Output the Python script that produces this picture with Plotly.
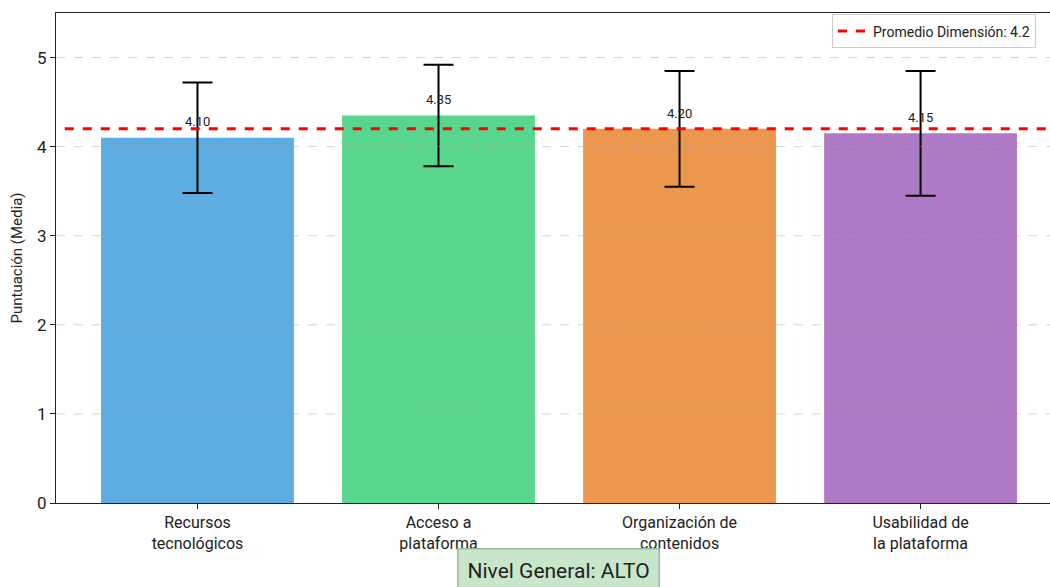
import plotly.graph_objects as go

categories = ["Recursos<br>tecnológicos", "Acceso a<br>plataforma", "Organización de<br>contenidos", "Usabilidad de<br>la plataforma"]
means = [4.10, 4.35, 4.20, 4.15]
errors = [0.62, 0.57, 0.65, 0.70]
colors = ["#5DADE2", "#58D68D", "#EB984E", "#AF7AC5"]
dim_mean = 4.2
y_ticks = [0, 1, 2, 3, 4, 5]
nivel = "ALTO"

FONT = "Roboto, Open Sans, sans-serif"
x = list(range(len(categories)))

fig = go.Figure()
fig.add_trace(go.Bar(
    x=x, y=means, width=0.8, marker=dict(color=colors, line=dict(width=0)),
    error_y=dict(type="data", array=errors, visible=True, color="black", thickness=2, width=15),
    showlegend=False, hoverinfo="skip",
))
fig.add_trace(go.Scatter(
    x=[-0.7, 3.7], y=[dim_mean, dim_mean], mode="lines",
    line=dict(color="red", width=3, dash="dash"),
    name=f"Promedio Dimensión: {dim_mean}", cliponaxis=True,
))

shapes = []
for t in y_ticks[1:]:
    shapes.append(dict(type="line", xref="paper", x0=0, x1=1, yref="y", y0=t, y1=t,
                       line=dict(color="rgba(160,160,160,0.45)", width=1, dash="dash"), layer="above"))

annotations = []
for xi, v in zip(x, means):
    annotations.append(dict(x=xi, y=v + 0.07, text=f"{v:.2f}", showarrow=False, yanchor="bottom",
                            font=dict(size=13, color="#222", family=FONT)))
annotations.append(dict(xref="paper", yref="paper", x=(558 - 56) / 994, y=-(570 - 503) / 490, yanchor="middle",
                        text=f"Nivel General: {nivel}", showarrow=False,
                        font=dict(size=21, color="#222", family=FONT),
                        bgcolor="#C8E6C9", bordercolor="#9DB89F", borderwidth=1.5, borderpad=9))

fig.update_layout(
    width=1050, height=587,
    margin=dict(l=56, r=0, t=13, b=84, autoexpand=False),
    paper_bgcolor="white", plot_bgcolor="white",
    font=dict(family=FONT, size=15, color="#222"),
    shapes=shapes, annotations=annotations,
    legend=dict(x=(832 - 56) / 994, y=0.997, xanchor="left", yanchor="top",
                bgcolor="white", bordercolor="#cccccc", borderwidth=1, entrywidth=180,
                font=dict(size=14, family=FONT, color="#222")),
    xaxis=dict(range=[-0.587, 3.537], tickvals=x, ticktext=categories, showgrid=False,
               showline=True, linecolor="#222", linewidth=1.2, mirror=True, automargin=False,
               ticks="outside", ticklen=5, tickcolor="#222", zeroline=False,
               tickfont=dict(size=16)),
    yaxis=dict(range=[0, 5.5], tickvals=y_ticks, showgrid=False, zeroline=False,
               showline=True, linecolor="#222", linewidth=1.2, automargin=False,
               ticks="outside", ticklen=5, tickcolor="#222",
               title=dict(text="Puntuación (Media)", font=dict(size=15), standoff=10),
               tickfont=dict(size=17)),
)

fig.write_html("out.html", config={"displayModeBar": False},
               post_script="document.body.style.margin='0px';document.body.style.overflow='hidden';")
